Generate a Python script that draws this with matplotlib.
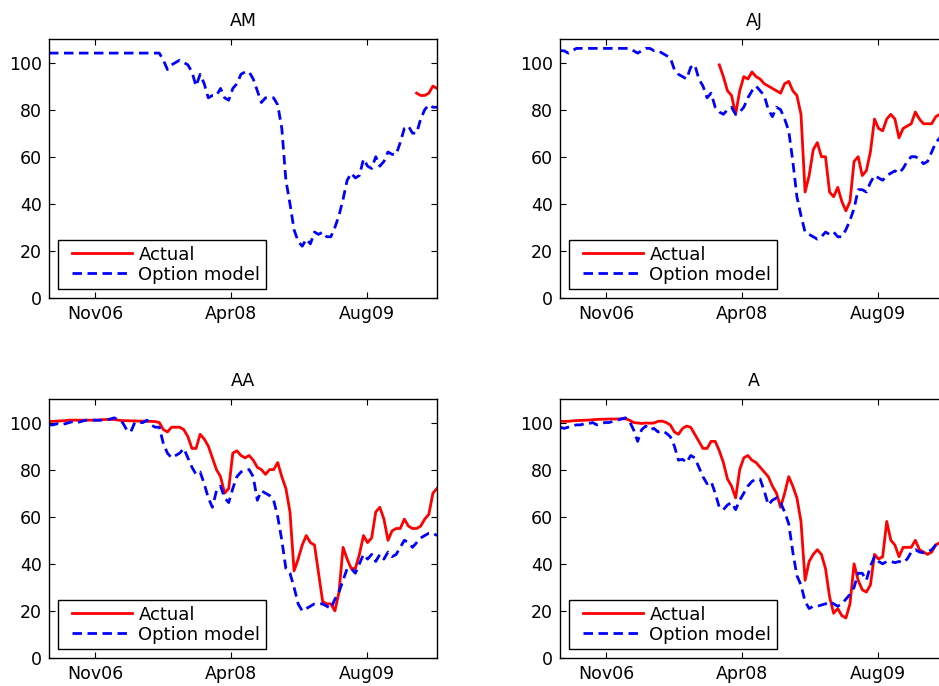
import numpy as np
import pandas as pd
import matplotlib
matplotlib.use("Agg")
import matplotlib.pyplot as plt
import matplotlib.dates as mdates
from matplotlib.legend_handler import HandlerLine2D

# sampling dates (roughly every half month, Jun 2006 - Apr 2010)
dates = pd.date_range("2006-06-01", "2010-04-30", periods=96)

# --- AM ---
am_option = [104] * 28 + [
    101, 97, 99, 100, 101, 100, 99, 96, 90, 95, 91, 85, 86, 86, 89, 85, 84, 89, 91, 95,
    96, 96, 93, 88, 83, 85, 85, 85, 82, 72, 50, 40, 29, 24, 22, 25, 23, 28, 27, 28,
    26, 26, 30, 35, 42, 50, 53, 51, 52, 59, 56, 55, 60, 56, 58, 62, 61, 61, 66, 72,
    73, 70, 70, 76, 80, 82, 81, 81]
am_actual = [np.nan] * 90 + [87, 86, 86, 87, 90, 89]

# --- AJ ---
aj_option = [105, 105, 104, 105, 106] + [106] * 11 + [
    106, 106, 105, 104, 105, 106, 106, 105, 105, 104, 103, 102, 97, 95, 94, 93, 98, 99,
    93, 90, 85, 87, 81, 79, 78, 80, 81, 78, 79, 81, 85, 88, 90, 88, 86, 80, 77, 81, 80,
    76, 71, 58, 43, 35, 28, 27, 26, 25, 26, 28, 27, 28, 26, 26, 29, 33, 38, 46, 46, 45,
    49, 52, 51, 50, 52, 53, 54, 53, 55, 58, 60, 60, 59, 57, 58, 62, 66, 68, 68, 70]
aj_actual = [np.nan] * 39 + [
    99, 94, 88, 86, 78, 88, 94, 93, 96, 94, 93, 91, 90, 89, 88, 87, 91, 92, 88, 86,
    78, 45, 52, 63, 66, 60, 60, 45, 43, 47, 41, 37, 41, 58, 60, 52, 54, 62, 76, 72,
    71, 76, 78, 76, 68, 72, 73, 74, 79, 76, 74, 74, 74, 77, 78, 77, 78]

# --- AA ---
aa_actual = [
    100.5, 100.5, 100.6, 100.7, 100.8, 101, 101, 101, 101, 101, 101, 101, 101, 101.2,
    101.3, 101.3, 101.3, 101, 100.8, 100.8, 100.7, 100.7, 100.6, 100.6, 100.5, 100.5,
    100.4, 100, 97, 96, 98, 98, 98, 97, 94, 89, 89, 95, 93, 90, 85, 80, 77, 70, 72,
    87, 88, 86, 85, 86, 84, 81, 80, 78, 80, 80, 83, 77, 72, 62, 37, 42, 48, 52, 49,
    48, 36, 24, 23, 23, 20, 28, 47, 42, 38, 38, 44, 52, 49, 51, 62, 64, 59, 50, 54,
    55, 55, 59, 56, 55, 55, 56, 59, 61, 70, 72]
aa_option = [
    99, 99, 99.5, 99, 99.5, 100, 100.5, 100, 100.5, 101, 101, 101, 101, 101, 101,
    101.5, 102, 101, 100, 97, 96, 100, 100, 100, 101, 99, 98, 98, 91, 87, 85, 86, 87,
    89, 85, 81, 78, 79, 74, 68, 64, 71, 73, 68, 66, 72, 77, 79, 80, 80, 77, 67, 71,
    70, 69, 67, 60, 50, 38, 36, 30, 23, 20, 21, 22, 23, 23, 23, 22, 21, 25, 28, 33,
    38, 38, 36, 40, 44, 42, 44, 41, 44, 42, 45, 43, 44, 47, 50, 49, 47, 49, 51, 52,
    53, 53, 52]

# --- A ---
a_actual = [
    100.5, 100.5, 100.5, 100.7, 100.8, 100.9, 101, 101, 101.2, 101.3, 101.4, 101.4,
    101.5, 101.5, 101.5, 101.6, 101.6, 101, 100, 99.8, 99.6, 99.8, 99.7, 99.8, 100.5,
    100.6, 100, 99, 96, 95, 97.5, 98.5, 98, 95, 92, 89, 89, 92, 92, 88, 83, 76, 73,
    68, 80, 85, 86, 84, 83, 81, 79, 77, 73, 70, 64, 70, 77, 73, 68, 58, 33, 41, 44,
    46, 44, 38, 26, 19, 21, 18, 17, 23, 40, 33, 29, 28, 31, 44, 42, 43, 58, 50, 48,
    43, 47, 47, 47, 50, 46, 45, 44, 45, 48, 49, 48, 49]
a_option = [
    98, 97.5, 98, 98.5, 99, 99, 99.5, 99.5, 100, 99, 99.5, 100, 100, 100.5, 101, 101.5,
    102, 100.5, 97, 92, 97, 98.5, 97, 97.5, 96, 96.5, 95.5, 94, 90, 84, 84.4, 83, 86,
    85, 81, 77, 74, 75, 70, 64, 63, 65, 66, 63, 67, 70, 73, 75, 76, 76, 71, 65, 67,
    68, 66, 62, 57, 45, 35, 31, 24, 21, 22, 22, 22.5, 23, 24, 23, 22, 23, 25, 27, 30,
    36, 36, 33, 39, 43, 41, 40, 41, 41, 40.5, 41, 40.5, 42, 45, 46, 45, 44.7, 45, 46,
    48, 48, 49, 49]

names = ["AM", "AJ", "AA", "A"]
actual = [am_actual, aj_actual, aa_actual, a_actual]
option = [am_option, aj_option, aa_option, a_option]

fig = plt.figure(figsize=(9.39, 6.86), dpi=100)
plt.rcParams["font.family"] = ["DejaVu Sans"]

boxes = [
    [0.0522, 0.5656, 0.4132, 0.3776],
    [0.5964, 0.5656, 0.4132, 0.3776],
    [0.0522, 0.0408, 0.4132, 0.3776],
    [0.5964, 0.0408, 0.4132, 0.3776],
]

for box, name, act, opt in zip(boxes, names, actual, option):
    ax = fig.add_axes(box)
    l1, = ax.plot(dates, act, color="red", lw=2, label="Actual")
    l2, = ax.plot(dates, opt, color="blue", lw=2, dashes=(3.4, 2.0),
                  label="Option model")

    ax.set_xlim(pd.Timestamp("2006-06-01"), pd.Timestamp("2010-04-30"))
    ax.set_ylim(0, 110)
    ax.set_yticks([0, 20, 40, 60, 80, 100])
    ax.set_xticks([pd.Timestamp("2006-11-19"), pd.Timestamp("2008-04-02"),
                   pd.Timestamp("2009-08-15")])
    ax.xaxis.set_major_formatter(mdates.DateFormatter("%b%y"))
    ax.tick_params(direction="in", top=True, right=True, length=4,
                   labelsize=12.5, pad=5)
    for s in ax.spines.values():
        s.set_linewidth(1)
    ax.set_title(name, fontsize=12.5, pad=9)

    hl = HandlerLine2D(xpad=0.45)
    leg = ax.legend(handler_map={l1: hl, l2: hl}, loc="lower left", fontsize=13,
                    fancybox=False, edgecolor="black", framealpha=1,
                    handlelength=3.8, handletextpad=0.35, labelspacing=0.1,
                    borderpad=0.3, borderaxespad=0.5)
    leg.get_frame().set_linewidth(1)

plt.savefig("out.png", dpi=100)
